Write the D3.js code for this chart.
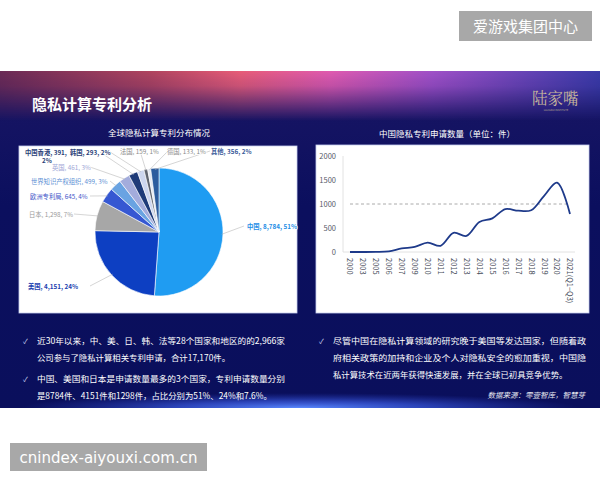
<!DOCTYPE html>
<html><head><meta charset="utf-8">
<script src="https://cdn.jsdelivr.net/npm/d3@7"></script>
<style>html,body{margin:0;padding:0;background:#fff;}svg{display:block;font-family:"Noto Sans CJK SC","Noto Sans",sans-serif;}</style>
</head><body>
<svg id="c" width="600" height="480"></svg>
<script>
// ---- data ----
const pieNames = ["中国","美国","日本","欧洲专利局","世界知识产权组织","英国","中国香港","韩国","法国","德国","其他"];
const pieValues = [8784,4151,1298,645,499,461,391,293,159,133,356];
const piePct = ["51%","24%","7%","4%","3%","3%","2%","2%","1%","1%","2%"];
const years = ["2000","2003","2005","2006","2007","2009","2010","2011","2012","2013","2014","2015","2016","2017","2018","2019","2020","2021(Q1−Q3)"];
const counts = [0,0,3,15,75,105,195,130,400,335,625,700,895,860,870,1170,1445,790];
const yTicks = [0,500,1000,1500,2000];
const refLine = 1000;
const bulletsLeft = [["近30年以来，中、美、日、韩、法等28个国家和地区的的2,966家","公司参与了隐私计算相关专利申请，合计17,170件。"],["中国、美国和日本是申请数量最多的3个国家，专利申请数量分别","是8784件、4151件和1298件，占比分别为51%、24%和7.6%。"]];
const bulletsRight = [["尽管中国在隐私计算领域的研究晚于美国等发达国家，但随着政","府相关政策的加持和企业及个人对隐私安全的愈加重视，中国隐","私计算技术在近两年获得快速发展，并在全球已初具竞争优势。"]];

// ---- styles / layout ----
const pieColors = ["#1f9cf2","#0d3fc2","#a7a7a7","#3658d2","#69a3e2","#a3acdc","#1e3a78","#cdd6ef","#5f6470","#e4e8f2","#2c5c9e"];
const labelColors = ["#1f8fe6","#1c3fb0","#9a9a9a","#3d55c8","#5d8fd4","#9ea6d6","#2a3f78","#2a3f78","#8a8a8a","#8a8a8a","#3a5a98"];
// label anchor: [x, y, textAnchor, lineEndX]
const labelPos = [[247,229,"start",244],[28,289,"start",90],[29,217,"start",74],[30,199,"start",90],[31,184,"start",110],[52,170,"start",90],[25,155,"start",100],[70,155,"start",110],[120,154,"start",140],[167,154,"start",168],[211,154,"start",210]];

const svg = d3.select("#c");
const defs = svg.append("defs");

// slide background
const bg = defs.append("linearGradient").attr("id","bg").attr("x1",0).attr("y1",0).attr("x2",0).attr("y2",1);
bg.append("stop").attr("offset","0%").attr("stop-color","#1a1665");
bg.append("stop").attr("offset","40%").attr("stop-color","#0b0f5e");
bg.append("stop").attr("offset","100%").attr("stop-color","#0a0f5c");
svg.append("rect").attr("x",0).attr("y",71).attr("width",600).attr("height",337).attr("fill","url(#bg)");

// header band
const hb = defs.append("linearGradient").attr("id","hb").attr("x1",0).attr("y1",0).attr("x2",1).attr("y2",0);
[["0%","#6b2a55"],["25%","#b0445f"],["40%","#e85c78"],["55%","#e05ab0"],["72%","#a050c8"],["100%","#3a3aa8"]].forEach(s=>hb.append("stop").attr("offset",s[0]).attr("stop-color",s[1]));
const fm = defs.append("linearGradient").attr("id","fm").attr("x1",0).attr("y1",0).attr("x2",0).attr("y2",1);
fm.append("stop").attr("offset","0%").attr("stop-color","#fff").attr("stop-opacity",1);
fm.append("stop").attr("offset","30%").attr("stop-color","#fff").attr("stop-opacity",0.85);
fm.append("stop").attr("offset","100%").attr("stop-color","#fff").attr("stop-opacity",0);
defs.append("mask").attr("id","hm").append("rect").attr("x",0).attr("y",71).attr("width",600).attr("height",50).attr("fill","url(#fm)");
svg.append("rect").attr("x",0).attr("y",71).attr("width",600).attr("height",50).attr("fill","url(#hb)").attr("mask","url(#hm)");

// bottom glow
const gl = defs.append("radialGradient").attr("id","gl").attr("cx","50%").attr("cy","100%").attr("r","50%");
gl.append("stop").attr("offset","0%").attr("stop-color","#5a88ff").attr("stop-opacity",1);
gl.append("stop").attr("offset","45%").attr("stop-color","#3a5ae0").attr("stop-opacity",0.7);
gl.append("stop").attr("offset","100%").attr("stop-color","#2a40c0").attr("stop-opacity",0);
svg.append("rect").attr("x",20).attr("y",378).attr("width",560).attr("height",30).attr("fill","url(#gl)");

svg.append("text").attr("x",32).attr("y",110).attr("fill","#fff").attr("font-size",15).attr("font-weight","bold").text("隐私计算专利分析");
svg.append("text").attr("x",532).attr("y",104).attr("fill","#c8b89c").attr("font-size",15.5).attr("font-family","'Noto Serif CJK SC','Noto Sans CJK SC',serif").text("陆家嘴");
svg.append("text").attr("x",556).attr("y",111).attr("fill","#b8a890").attr("font-size",2.6).attr("text-anchor","middle").text("LUJIAZUI INSTITUTE");

// watermarks
svg.append("rect").attr("x",459).attr("y",11).attr("width",133).attr("height",30).attr("fill","#a8a8a8");
svg.append("text").attr("x",525.5).attr("y",32).attr("text-anchor","middle").attr("fill","#fff").attr("font-size",15).text("爱游戏集团中心");
svg.append("rect").attr("x",10).attr("y",443).attr("width",197).attr("height",28).attr("fill","#a8a8a8");
svg.append("text").attr("x",108.5).attr("y",463).attr("text-anchor","middle").attr("fill","#fff").attr("font-size",15).attr("font-family","'DejaVu Sans',sans-serif").attr("textLength",178).text("cnindex-aiyouxi.com.cn");

// panel titles
svg.append("text").attr("x",159).attr("y",136).attr("text-anchor","middle").attr("fill","#fff").attr("font-size",8.5).text("全球隐私计算专利分布情况");
svg.append("text").attr("x",447).attr("y",137).attr("text-anchor","middle").attr("fill","#fff").attr("font-size",8.5).text("中国隐私专利申请数量（单位：件）");

// panels
svg.append("rect").attr("x",19).attr("y",146).attr("width",278).attr("height",167).attr("fill","#fff").attr("stroke","#c8d0f0").attr("stroke-width",0.8);
svg.append("rect").attr("x",316).attr("y",145).attr("width",273).attr("height",168).attr("fill","#fff").attr("stroke","#c8d0f0").attr("stroke-width",0.8);

// ---- pie ----
const cx = 159, cy = 232, R = 64;
const pie = d3.pie().sort(null).value(d=>d)(pieValues);
const arc = d3.arc().innerRadius(0).outerRadius(R);
const pg = svg.append("g").attr("transform",`translate(${cx},${cy})`);
pg.selectAll("path").data(pie).join("path").attr("d",arc).attr("fill",(d,i)=>pieColors[i]).attr("stroke","#fff").attr("stroke-width",0.6);

// leader lines & labels
pie.forEach((d,i)=>{
  const a = (d.startAngle+d.endAngle)/2;
  const px = cx + Math.sin(a)*R*0.98, py = cy - Math.cos(a)*R*0.98;
  const lp = labelPos[i];
  svg.append("polyline").attr("points",`${px},${py} ${lp[3]},${lp[1]-3}`).attr("fill","none").attr("stroke","#b8b8b8").attr("stroke-width",0.6);
});
pie.forEach((d,i)=>{
  const lp = labelPos[i];
  let txt = pieNames[i]+", "+d3.format(",")(pieValues[i])+", "+piePct[i];
  if (pieNames[i]==="中国香港") txt = pieNames[i]+", "+pieValues[i]+",";
  svg.append("text").attr("x",lp[0]).attr("y",lp[1]).attr("text-anchor",lp[2]).attr("fill",labelColors[i]).attr("font-size",6.3).attr("font-weight", i===6||i===7||i===10||i===1||i===0? "bold":"normal").attr("stroke","#fff").attr("stroke-width",1.5).attr("paint-order","stroke").text(txt);
});
svg.append("text").attr("x",42).attr("y",163).attr("fill","#2a3f78").attr("font-size",6.3).attr("font-weight","bold").text(piePct[6]);

// ---- line chart ----
const x = d3.scalePoint().domain(years).range([350,570]);
const y = d3.scaleLinear().domain([0,2000]).range([252,156]);
const lg = svg.append("g");
lg.append("line").attr("x1",343).attr("x2",343).attr("y1",y(2000)).attr("y2",y(0)).attr("stroke","#e2e2e2");
lg.append("line").attr("x1",343).attr("x2",575).attr("y1",y(0)).attr("y2",y(0)).attr("stroke","#e2e2e2");
lg.selectAll("text.yt").data(yTicks).join("text").attr("class","yt").attr("x",336).attr("y",d=>y(d)+2.5).attr("text-anchor","end").attr("fill","#555a66").attr("font-size",7.5).text(d=>d);
lg.selectAll("text.xt").data(years).join("text").attr("class","xt")
  .attr("transform",d=>`translate(${x(d)-2.6},258) rotate(90)`).attr("fill","#444a58").attr("font-size",7.5).text(d=>d);
lg.append("line").attr("x1",x(years[0])).attr("x2",x(years[years.length-1])).attr("y1",y(refLine)).attr("y2",y(refLine)).attr("stroke","#a0a0a0").attr("stroke-width",0.9).attr("stroke-dasharray","3,2.5");
const line = d3.line().x((d,i)=>x(years[i])).y(d=>y(d)).curve(d3.curveCatmullRom.alpha(0.5));
lg.append("path").attr("d",line(counts)).attr("fill","none").attr("stroke","#1e3a8a").attr("stroke-width",1.8);

// ---- bullets ----
function bullets(list, x0, y0, lh, gap, width){
  let yy = y0;
  list.forEach(par=>{
    svg.append("text").attr("x",x0-14).attr("y",yy).attr("fill","#c8d0f0").attr("font-size",7).text("✓");
    par.forEach((ln,k)=>{
      const t = svg.append("text").attr("x",x0).attr("y",yy).attr("fill","#fff").attr("font-size",8.4).text(ln);
      if (k < par.length-1) t.attr("textLength",width).attr("lengthAdjust","spacingAndGlyphs");
      yy += lh;
    });
    yy += gap;
  });
}
bullets(bulletsLeft, 37, 344, 17, 4, 248);
bullets(bulletsRight, 333, 344, 17, 0, 253);
svg.append("text").attr("x",585).attr("y",398).attr("text-anchor","end").attr("fill","#e8e8f0").attr("font-size",7.5).attr("font-style","italic").text("数据来源：零壹智库，智慧芽");
</script>
</body></html>
